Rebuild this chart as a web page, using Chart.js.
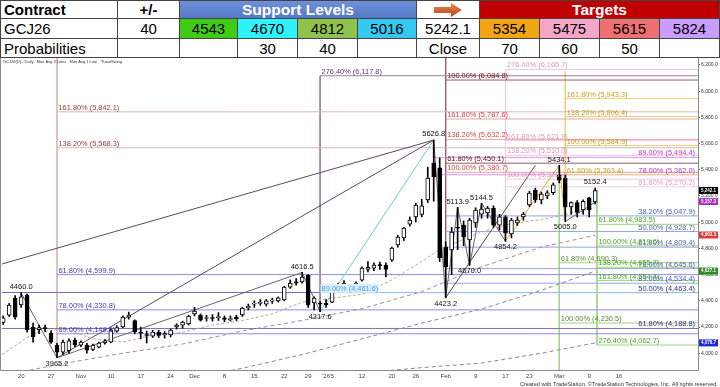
<!DOCTYPE html>
<html>
<head>
<meta charset="utf-8">
<script src="https://cdn.jsdelivr.net/npm/chart.js@4.4.1/dist/chart.umd.min.js"></script>
<style>
    body { margin: 0; background: #fff; font-family: 'Liberation Sans', Arial, sans-serif; }
    #wrap { position: relative; width: 720px; height: 387px; overflow: hidden; }
    #chart { position: absolute; left: 0; top: 0; }
    .cell { position: absolute; box-sizing: border-box; border-right: 1px solid #444; border-bottom: 1px solid #444;
            display: flex; align-items: center; justify-content: center; font-size: 15px; color: #000; white-space: nowrap; }
    .left { justify-content: flex-start; padding-left: 3px; }
    .bold { font-weight: bold; }
    .head { color: #fff; font-weight: bold; font-size: 15.5px; }
</style>
</head>
<body>
<div id="wrap">
    <canvas id="chart" width="720" height="387"></canvas>
    <div id="table"></div>
</div>
<script>
    // ---- table values ----
    const contract = 'GCJ26';
    const plusMinus = 40;
    const supportLevels = [4543, 4670, 4812, 5016];
    const supportProb = ['', 30, 40, ''];
    const lastClose = 5242.1;
    const targets = [5354, 5475, 5615, 5824];
    const targetProb = [70, 60, 50, ''];

    // ---- daily bars, Oct 15 2025 .. Mar 10 2026 (trading-day index) ----
    const open = [4235,4290,4421,4368,4444,4200,4180,4190,4154,4062, 4009,4020,4100,4062,4062,4030,4047,4078,4085,4169,
        4200,4276,4250,4160,4140,4131,4160,4140,4140,4200, 4215,4223,4300,4292,4265,4268,4270,4270,4255,4275,
        4292,4345,4375,4380,4375,4398,4400,4406,4505,4545, 4545,4595,4383,4383,4380,4390,4500,4536,4505,4505,
        4558,4640,4650,4670,4672,4711,4826,4880,4985,5040, 5060,5170,5452,5414,4811,4788,4963,4978,4864,4994,
        5062,5070,5108,4978,5040,4910,4995,5040,5131,5245, 5170,5200,5225,5360,5337,5116,5150,5093,5185,5155];
    const high = [4285,4380,4440,4460,4452,4230,4215,4215,4170,4075, 4100,4110,4115,4095,4075,4070,4085,4105,4185,4210,
        4285,4314,4255,4200,4170,4175,4175,4165,4185,4225, 4245,4290,4350,4300,4290,4295,4310,4285,4285,4290,
        4350,4375,4400,4410,4410,4420,4430,4510,4560,4570, 4616.5,4600,4430,4395,4410,4515,4535,4555,4520,4545,
        4660,4700,4690,4695,4690,4810,4900,4960,5040,5145, 5175,5420,5626.8,5490,4850,4960,5113.9,5010,5030,5110,
        5144.5,5120,5125,5060,5050,5030,5040,5075,5235,5260, 5230,5240,5300,5434.1,5360,5155,5165,5170,5190,5260];
    const low = [4220,4280,4260,4350,4160,4085,4150,4165,4075,3965.2, 3990,4000,4050,4050,4001,4020,4040,4070,4080,4160,
        4195,4260,4150,4110,4078,4120,4120,4115,4125,4185, 4190,4215,4285,4245,4245,4245,4250,4240,4245,4250,
        4280,4330,4350,4365,4360,4380,4390,4400,4495,4520, 4535,4350,4330,4317.6,4350,4385,4480,4495,4480,4495,
        4550,4620,4630,4640,4582,4700,4810,4860,4970,5000, 5040,5150,5160,4700,4423.2,4600,4790,4820,4670,4960,
        5030,5030,4960,4940,4854.2,4880,4975,5015,5120,5150, 5140,5180,5210,5300,5005,5060,5040,5060,5040,5140];
    const close = [4270,4368,4276,4430,4177,4124,4195,4188,4085,4009, 4085,4095,4062,4085,4024,4062,4078,4095,4177,4195,
        4276,4290,4162,4154,4135,4162,4135,4150,4177,4215, 4238,4284,4322,4253,4270,4265,4280,4258,4265,4262,
        4345,4358,4380,4385,4400,4402,4422,4505,4536,4535, 4582,4368,4421,4375,4368,4505,4520,4505,4498,4536,
        4650,4655,4672,4668,4640,4803,4887,4955,5017,5131, 5125,5337,5345,4730,4658,4925,4955,4887,5017,5093,
        5100,5108,4978,5040,4917,5017,5017,5062,5223,5170, 5215,5225,5285,5320,5116,5150,5075,5160,5093,5242.1];

    // x axis labels (bar index -> label)
    const xTickIdx = [3, 8, 13, 18, 23, 28, 32, 37, 42, 47, 51, 54, 55, 60, 65, 69, 74, 79, 84, 88, 93, 98, 103];
    const xTickLabels = ['20', '27', 'Nov', '10', '17', '24', 'Dec', '8', '15', '22', '29', "'26", '5', '12', '20', '26', 'Feb', '9', '17', '23', 'Mar', '9', '16'];
    const yTickVals = [4000, 4200, 4400, 4600, 4800, 5000, 5200, 5400, 5600, 5800, 6000, 6200];

    // moving averages: [bar index, price]
    const maFast = [[-0.2, 3990], [5, 4150], [10, 4190], [15, 4110], [20, 4085], [25, 4140], [30, 4160], [35, 4215], [40, 4250],
        [45, 4300], [50, 4390], [55, 4420], [60, 4450], [65, 4560], [70, 4700], [73, 4790], [76, 4850], [80, 4925], [85, 4990],
        [90, 5020], [95, 5070], [99, 5110]];
    const ma50 = [[-0.2, 3830], [10, 3920], [20, 4000], [30, 4070], [40, 4170], [50, 4250], [60, 4340], [70, 4470], [80, 4660], [90, 4810], [99, 4900]];
    const ma100 = [[30, 3800], [40, 3885], [50, 3990], [60, 4110], [70, 4230], [80, 4337], [90, 4480], [99, 4627]];
    const ma200 = [[60, 3850], [70, 3890], [80, 3925], [90, 4000], [99, 4078.7]];
    const axisBadges = [5242.1, 5157.3, 4902.3, 4627.1, 4078.7];

    // swing points (KaseSwing): [bar index, price, 1 = high / 0 = low]
    const swings = [[3, 4460.0, 1], [9, 3965.2, 0], [50, 4616.5, 1], [53, 4317.6, 0], [72, 5626.8, 1], [74, 4423.2, 0],
        [76, 5113.9, 1], [78, 4670.0, 0], [80, 5144.5, 1], [84, 4854.2, 0], [93, 5434.1, 1], [94, 5005.0, 0], [99, 5152.4, 1]];

    // fibonacci levels: [percent, price]
    const fibBrown = [[161.8, 5842.1], [138.2, 5568.3]];
    const fibBlueLow = [[61.8, 4599.9], [78.0, 4330.8], [89.0, 4148.6]];
    const fibPlum = [[276.4, 6117.8]];
    const fibSky = [[89.0, 4461.6]];
    const fibMaroon = [[100.0, 6084.8], [61.8, 5450.1]];
    const fibRed = [[161.8, 5787.6], [138.2, 5632.2], [100.0, 5380.7]];
    const fibPink = [[276.4, 6165.7], [161.8, 5621.9], [138.2, 5510.0], [100.0, 5328.7]];
    const fibGold = [[161.8, 5943.3], [138.2, 5806.4], [100.0, 5584.9], [61.8, 5363.4]];
    const fibMagenta = [[89.0, 5494.4], [78.0, 5362.0]];
    const fibLtPink = [[61.8, 5270.2]];
    const fibBlueRet = [[38.2, 5047.9], [50.0, 4928.7], [61.8, 4809.4], [78.0, 4645.6], [89.0, 4534.4]];
    const fibNavy = [[50.0, 4463.4], [61.8, 4188.8]];
    const fibGreen = [[61.8, 4983.5], [100.0, 4819.6], [138.2, 4655.7], [161.8, 4554.4], [276.4, 4062.7]];
    const fibOlive = [[61.8, 4690.3], [100.0, 4230.5]];

    // trend lines: [[idx, price], [idx, price]]
    const trendLines = [[[-0.2, 4681], [72, 5626.8]], [[9, 3965.2], [72, 5626.8]], [[74, 4423.2], [89, 5434]]];

    const X_MAX = 116.2, Y_MIN = 3872, Y_MAX = 6253;

    const styles = {
        brown:   { text: '#9a3b3b', line: '#d8b8b0' },
        blue:    { text: '#3c3cb4', line: '#8c8ce6' },
        plum:    { text: '#5b3b63', line: '#9a80a2' },
        sky:     { text: '#5a9ee0', line: '#b0d4f0', bg: '#d8f0fb' },
        maroon:  { text: '#6a0a0a', line: '#9a5a66' },
        red:     { text: '#d04545', line: '#eda0a0' },
        pink:    { text: '#d99bb8', line: '#f0c6d8' },
        gold:    { text: '#c9a21c', line: '#e8d27c' },
        magenta: { text: '#b534c8', line: '#dc92ea' },
        ltpink:  { text: '#e59cc0', line: '#f3cde0' },
        blueR:   { text: '#4a5cb8', line: '#97a5e2' },
        navy:    { text: '#2c2c7c', line: '#7474b4' },
        green:   { text: '#46a81e', line: '#a2d682' },
        olive:   { text: '#4f8f2a', line: '#a8d088' }
    };

    // groups: levels, first bar of the lines, style, label side
    const fibGroups = [
        { lv: fibBrown, from: 9, st: 'brown', side: 'l' },
        { lv: fibBlueLow, from: 9, st: 'blue', side: 'l' },
        { lv: fibPlum, from: 53, st: 'plum', side: 'l' },
        { lv: fibSky, from: 53, st: 'sky', side: 'l' },
        { lv: fibMaroon, from: 74, st: 'maroon', side: 'l' },
        { lv: fibRed, from: 74, st: 'red', side: 'l' },
        { lv: fibPink, from: 84, st: 'pink', side: 'l' },
        { lv: fibGold, from: 94, st: 'gold', side: 'l' },
        { lv: fibMagenta, from: 72, st: 'magenta', side: 'r' },
        { lv: fibLtPink, from: 84, st: 'ltpink', side: 'r' },
        { lv: fibBlueRet, from: 74, st: 'blueR', side: 'r' },
        { lv: fibNavy, from: -0.2, st: 'navy', side: 'r' },
        { lv: fibGreen, from: 99.3, st: 'green', side: 'l' },
        { lv: fibOlive, from: 93, st: 'olive', side: 'l' }
    ];

    // vertical anchor lines: [idx, top price, bottom price, style]
    const anchors = [[9, Y_MAX, 3965.2, 'brown'], [53, 6117.8, 4317.6, 'plum'], [74, Y_MAX, 4423.2, 'maroon'],
        [84, 6165.7, 4854.2, 'pink'], [94, 6150, 5005.0, 'gold'], [93, 5434.1, Y_MIN, 'olive'], [99.3, 5248.7, 4062.7, 'green']];

    // 构建表格
    function buildTable() {
        const colX = [0, 118, 180, 238, 298, 358, 417, 480, 540, 600, 660, 720];
        const rowY = [0, 19, 39, 58];
        const host = document.getElementById('table');
        const fills = ['#3fcc17', '#2ff2ff', '#92c24e', '#35c8f0', '#fff', '#f2a512', '#f5a6c8', '#ef7070', '#c99cff'];

        function cell(c0, c1, r, text, cls, bg) {
            const d = document.createElement('div');
            d.className = 'cell ' + (cls || '');
            d.style.left = colX[c0] + 'px';
            d.style.top = rowY[r] + 'px';
            d.style.width = (colX[c1] - colX[c0]) + 'px';
            d.style.height = (rowY[r + 1] - rowY[r]) + 'px';
            if (c0 === 0) d.style.borderLeft = '1px solid #444';
            if (r === 0) d.style.borderTop = '1px solid #444';
            d.style.background = bg || '#fff';
            d.innerHTML = text;
            host.appendChild(d);
        }

        cell(0, 1, 0, 'Contract', 'left bold');
        cell(1, 2, 0, '+/-', 'bold');
        cell(2, 6, 0, 'Support Levels', 'head', 'linear-gradient(#6f90da, #5579c8)');
        cell(6, 7, 0, '<svg width="30" height="14"><defs><linearGradient id="ag" x1="0" y1="0" x2="0" y2="1">' +
            '<stop offset="0" stop-color="#e58a55"/><stop offset="1" stop-color="#b8461c"/></linearGradient></defs>' +
            '<polygon points="1,4 18,4 18,0 29,7 18,14 18,10 1,10" fill="url(#ag)"/></svg>');
        cell(7, 11, 0, 'Targets', 'head', '#c00000');

        cell(0, 1, 1, contract, 'left');
        cell(1, 2, 1, plusMinus);
        supportLevels.forEach((v, i) => cell(2 + i, 3 + i, 1, v, '', fills[i]));
        cell(6, 7, 1, lastClose.toFixed(1));
        targets.forEach((v, i) => cell(7 + i, 8 + i, 1, v, '', fills[5 + i]));

        cell(0, 1, 2, 'Probabilities', 'left');
        cell(1, 2, 2, '');
        supportProb.forEach((v, i) => cell(2 + i, 3 + i, 2, v));
        cell(6, 7, 2, 'Close');
        targetProb.forEach((v, i) => cell(7 + i, 8 + i, 2, v));
    }

    function fmt(v) {
        return v.toLocaleString('en-US', { minimumFractionDigits: 1, maximumFractionDigits: 1 });
    }

    function seg(points, color, extra) {
        return Object.assign({
            type: 'line',
            data: points.map(p => ({ x: p[0], y: p[1] })),
            borderColor: color,
            borderWidth: 1,
            pointRadius: 0,
            fill: false,
            tension: 0,
            order: 5
        }, extra || {});
    }

    function buildDatasets() {
        const idx = close.map((_, i) => i);
        const sets = [];

        // 烛台：影线 + 实体
        sets.push({
            type: 'bar', data: idx.map(i => ({ x: i, y: [low[i], high[i]] })),
            backgroundColor: '#000', barThickness: 1, grouped: false, order: 1
        });
        sets.push({
            type: 'bar', data: idx.map(i => ({ x: i, y: [open[i], close[i]] })),
            backgroundColor: idx.map(i => close[i] >= open[i] ? '#fff' : '#000'),
            borderColor: '#000', borderWidth: 1, borderSkipped: false,
            barThickness: 4, minBarLength: 1, grouped: false, order: 0
        });

        // 均线
        sets.push(seg(maFast, '#c9a595', { borderDash: [3, 2], order: 3 }));
        sets.push(seg(ma50, '#a68a8e', { borderDash: [4, 3], order: 3 }));
        sets.push(seg(ma100, '#8f839f', { borderDash: [4, 3], order: 3 }));
        sets.push(seg(ma200, '#8f839f', { borderDash: [4, 3], order: 3 }));

        // 斐波那契水平线
        fibGroups.forEach(g => {
            g.lv.forEach(l => sets.push(seg([[g.from, l[1]], [X_MAX, l[1]]], styles[g.st].line, { order: 6 })));
        });
        anchors.forEach(a => sets.push(seg([[a[0], a[1]], [a[0], a[2]]], styles[a[3]].line, { order: 6 })));

        // 趋势线与摆动连线
        trendLines.forEach(t => sets.push(seg(t, '#5a4a66', { order: 4 })));
        const zz = swings.map(s => [s[0], s[1]]);
        for (let i = 0; i < zz.length - 1; i++) {
            let col = '#6e5f72';
            if (i === 3) col = '#6cc8d8';
            if (i === 9 || i === 10) col = '#d8b030';
            sets.push(seg([zz[i], zz[i + 1]], col, { order: 4 }));
        }
        return sets;
    }

    const overlay = {
        id: 'overlay',
        afterDatasetsDraw(chart) {
            const { ctx, chartArea: a, scales: { x, y } } = chart;
            ctx.save();
            ctx.beginPath();
            ctx.rect(a.left, a.top, a.right - a.left, a.bottom - a.top);
            ctx.clip();

            // 斐波那契标签
            ctx.font = '7.4px "Liberation Sans", Arial, sans-serif';
            ctx.textBaseline = 'alphabetic';
            fibGroups.forEach(g => {
                const st = styles[g.st];
                g.lv.forEach(l => {
                    const txt = l[0].toFixed(2) + '% (' + fmt(l[1]) + ')';
                    const py = y.getPixelForValue(l[1]) - 2;
                    const w = ctx.measureText(txt).width;
                    const tx = g.side === 'l' ? x.getPixelForValue(g.from) + 1.5 : a.right - 3 - w;
                    if (st.bg) {
                        ctx.fillStyle = st.bg;
                        ctx.fillRect(tx - 1, py - 7, w + 2, 9);
                    }
                    ctx.fillStyle = st.text;
                    ctx.textAlign = 'left';
                    ctx.fillText(txt, tx, py);
                });
            });

            // 摆动点标签
            ctx.font = '7.5px "Liberation Sans", Arial, sans-serif';
            ctx.fillStyle = '#111';
            ctx.textAlign = 'center';
            swings.forEach(s => {
                const px = x.getPixelForValue(s[0]);
                if (s[2]) {
                    const p = Math.max(s[1], high[s[0]]);
                    ctx.textBaseline = 'bottom';
                    ctx.fillText(s[1].toFixed(1), px, y.getPixelForValue(p) - 2);
                } else {
                    ctx.textBaseline = 'top';
                    ctx.fillText(s[1].toFixed(1), px, y.getPixelForValue(s[1]) + 2);
                }
            });

            // 图表标题
            ctx.font = '4px "Liberation Sans", Arial, sans-serif';
            ctx.textAlign = 'left';
            ctx.textBaseline = 'top';
            ctx.fillStyle = '#333';
            ctx.fillText('GCJ26(D) - Daily   Mov Avg 3 Lines   Mov Avg 1 Line   *KaseSwing', 3, a.top + 2);
            ctx.restore();
        },
        afterDraw(chart) {
            const { ctx, chartArea: a, scales: { y } } = chart;
            ctx.save();
            // 边框
            ctx.strokeStyle = '#8a8a8a';
            ctx.lineWidth = 1;
            ctx.beginPath();
            ctx.moveTo(a.left - 1.5, a.top);
            ctx.lineTo(a.left - 1.5, a.bottom + 0.5);
            ctx.lineTo(a.right + 0.5, a.bottom + 0.5);
            ctx.lineTo(a.right + 0.5, a.top);
            ctx.stroke();

            // 坐标轴数值标记
            const badgeCol = ['#000', '#a335b5', '#e23a3a', '#2e8a22', '#2626e0'];
            ctx.font = 'bold 4.5px "Liberation Sans", Arial, sans-serif';
            ctx.textAlign = 'center';
            ctx.textBaseline = 'middle';
            axisBadges.forEach((v, i) => {
                const py = y.getPixelForValue(v);
                ctx.fillStyle = badgeCol[i];
                ctx.fillRect(a.right + 1, py - 3.5, 19, 7);
                ctx.fillStyle = '#fff';
                ctx.fillText(fmt(v), a.right + 10.5, py);
            });

            // 版权
            ctx.font = '5.6px "Liberation Sans", Arial, sans-serif';
            ctx.fillStyle = '#333';
            ctx.textAlign = 'right';
            ctx.textBaseline = 'alphabetic';
            ctx.fillText('Created with TradeStation. \u00A9TradeStation Technologies, Inc. All rights reserved.', 718, 385.5);
            ctx.restore();
        }
    };

    function drawChart() {
        const ctx = document.getElementById('chart').getContext('2d');
        new Chart(ctx, {
            type: 'bar',
            data: { datasets: buildDatasets() },
            options: {
                responsive: false,
                devicePixelRatio: 1,
                animation: false,
                layout: { padding: { top: 58, left: 2, right: 0, bottom: 0 } },
                plugins: { legend: { display: false }, tooltip: { enabled: false } },
                scales: {
                    x: {
                        type: 'linear', min: -0.2, max: X_MAX, offset: false,
                        grid: { display: false, drawTicks: false, tickLength: 0 }, border: { display: false },
                        afterBuildTicks: s => { s.ticks = xTickIdx.map(v => ({ value: v })); },
                        afterFit: s => { s.height = 17; },
                        ticks: {
                            autoSkip: false, maxRotation: 0, padding: 3, color: '#444',
                            font: { size: 6, family: 'Liberation Sans' },
                            callback: (v, i) => xTickLabels[i]
                        }
                    },
                    y: {
                        type: 'linear', position: 'right', min: Y_MIN, max: Y_MAX,
                        grid: { drawOnChartArea: false, drawTicks: true, tickLength: 2, color: '#666' },
                        border: { display: false },
                        afterBuildTicks: s => { s.ticks = yTickVals.map(v => ({ value: v })); },
                        afterFit: s => { s.width = 22; },
                        ticks: {
                            padding: 1, color: '#333',
                            font: { size: 5, family: 'Liberation Sans' },
                            callback: v => fmt(v)
                        }
                    }
                }
            },
            plugins: [overlay]
        });
    }

    window.addEventListener('DOMContentLoaded', function() {
        buildTable();
        drawChart();
    });
</script>
</body>
</html>
